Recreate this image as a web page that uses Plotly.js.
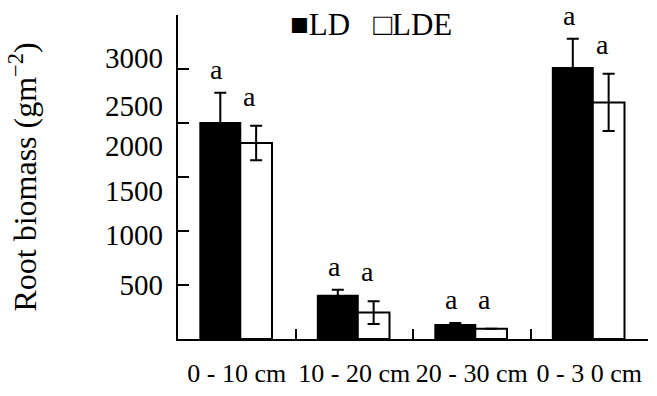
<!DOCTYPE html>
<html><head><meta charset="utf-8">
<script src="https://cdn.plot.ly/plotly-3.0.1.min.js"></script>
<style>html,body{margin:0;padding:0;background:#fff}</style>
</head><body><div id="chart" style="width:657px;height:396px"></div>
<script>
const categories = ['0 - 10 cm', '10 - 20 cm', '20 - 30 cm', '0 - 3 0 cm'];
const ldValues = [2000, 400, 130, 2510];
const ldErrors = [280, 55, 18, 270];
const ldeValues = [1815, 245, 95, 2190];
const ldeErrors = [160, 105, 0, 265];
const ldLetters = ['a', 'a', 'a', 'a'];
const ldeLetters = ['a', 'a', 'a', 'a'];
const yTickVals = [500, 1000, 1500, 2000, 2500, 3000];
const yLabelVals = [500, 960, 1370, 1787, 2157, 2600];
const yLabelText = ['500', '1000', '1500', '2000', '2500', '3000'];

const FONT = 'Liberation Serif, Times New Roman, serif';

const ld = {
  type: 'bar', name: 'LD', x: categories, y: ldValues,
  offset: -0.31, width: 0.34,
  marker: {color: '#000', line: {color: '#000', width: 2}},
  error_y: {type: 'data', array: ldErrors, visible: true, color: '#000', thickness: 2, width: 6},
  showlegend: false, hoverinfo: 'skip'
};
const lde = {
  type: 'bar', name: 'LDE', x: categories, y: ldeValues,
  offset: 0.03, width: 0.27,
  marker: {color: '#fff', line: {color: '#000', width: 2}},
  error_y: {type: 'data', array: ldeErrors, visible: true, color: '#000', thickness: 2, width: 6},
  showlegend: false, hoverinfo: 'skip'
};
const labelHolder = {
  type: 'scatter', mode: 'markers', x: [categories[0]], y: [0], yaxis: 'y2',
  marker: {opacity: 0}, showlegend: false, hoverinfo: 'skip'
};

const annotations = [];
categories.forEach((c, i) => {
  annotations.push({
    x: i - 0.17, y: ldValues[i] + ldErrors[i], xref: 'x', yref: 'y',
    text: ldLetters[i], showarrow: false, yanchor: 'bottom', yshift: 6,
    font: {family: FONT, size: 28, color: '#000'}
  });
  annotations.push({
    x: i + 0.11, y: ldeValues[i] + ldeErrors[i], xref: 'x', yref: 'y',
    text: ldeLetters[i], showarrow: false, yanchor: 'bottom', yshift: 12,
    font: {family: FONT, size: 28, color: '#000'}
  });
});
annotations.push({
  x: 0.41, y: 0.972, xref: 'paper', yref: 'paper',
  text: '■LD   □LDE', showarrow: false, xanchor: 'center', yanchor: 'middle',
  font: {family: FONT, size: 31, color: '#000'}
});

const layout = {
  width: 657, height: 396,
  margin: {l: 178, r: 9, t: 15, b: 57, pad: 0},
  paper_bgcolor: '#fff', plot_bgcolor: '#fff',
  font: {family: FONT, color: '#000', size: 26},
  bargap: 0,
  xaxis: {
    type: 'category', showline: true, linecolor: '#000', linewidth: 2,
    ticks: 'inside', tickson: 'boundaries', ticklen: 10, tickwidth: 2, tickcolor: '#000',
    showgrid: false, zeroline: false, ticklabelstandoff: 10, tickangle: 0,
    tickfont: {family: FONT, size: 26, color: '#000'}
  },
  yaxis: {
    range: [0, 3000], showline: true, linecolor: '#000', linewidth: 2,
    ticks: 'inside', ticklen: 11, tickwidth: 2, tickcolor: '#000',
    tickvals: yTickVals, showticklabels: false, showgrid: false, zeroline: false
  },
  yaxis2: {
    overlaying: 'y', side: 'left', range: [0, 3000],
    tickvals: yLabelVals, ticktext: yLabelText, ticks: '', showline: false,
    showgrid: false, zeroline: false, ticklabelstandoff: 14,
    tickfont: {family: FONT, size: 29, color: '#000'},
    title: {text: 'Root biomass (gm<sup>−2</sup>)', font: {family: FONT, size: 32, color: '#000'}, standoff: 58}
  },
  annotations: annotations
};

Plotly.newPlot('chart', [ld, lde, labelHolder], layout, {staticPlot: true, displayModeBar: false});
</script>
</body></html>
